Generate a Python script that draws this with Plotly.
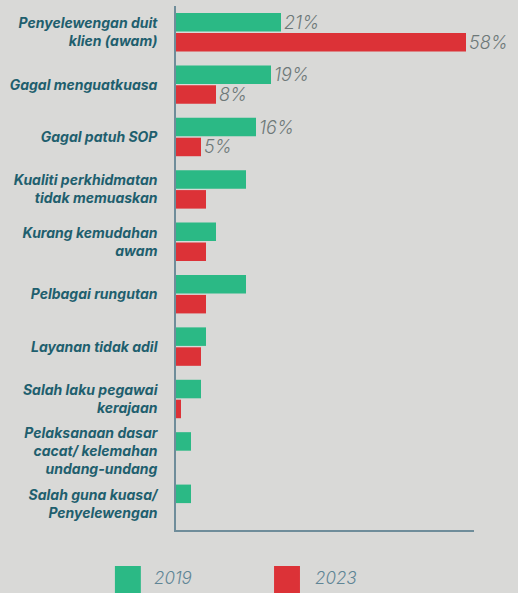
import plotly.graph_objects as go

categories = [
    "Penyelewengan duit<br>klien (awam)",
    "Gagal menguatkuasa",
    "Gagal patuh SOP",
    "Kualiti perkhidmatan<br>tidak memuaskan",
    "Kurang kemudahan<br>awam",
    "Pelbagai rungutan",
    "Layanan tidak adil",
    "Salah laku pegawai<br>kerajaan",
    "Pelaksanaan dasar<br>cacat/ kelemahan<br>undang-undang",
    "Salah guna kuasa/<br>Penyelewengan",
]
values_2019 = [21, 19, 16, 14, 8, 14, 6, 5, 3, 3]
values_2023 = [58, 8, 5, 6, 6, 6, 5, 1, 0, 0]
labels_2019 = ["21%", "19%", "16%", "", "", "", "", "", "", ""]
labels_2023 = ["58%", "8%", "5%", "", "", "", "", "", "", ""]

GREEN = "#2bb985"
RED = "#dc3237"
BG = "#d9d9d7"
LABEL = "#1f5f6e"
VALUE = "#6d7878"
AXIS = "#6f8d9a"

fig = go.Figure()

fig.add_trace(go.Bar(
    y=categories, x=values_2019, orientation='h', name='2019',
    marker=dict(color=GREEN, line=dict(width=0)),
    text=labels_2019, textposition='outside', constraintext='none',
    cliponaxis=False, hoverinfo='skip',
    textfont=dict(family="Inter", size=18, color=VALUE, style='italic', weight=300),
))
fig.add_trace(go.Bar(
    y=categories, x=values_2023, orientation='h', name='2023',
    marker=dict(color=RED, line=dict(width=0)),
    text=labels_2023, textposition='outside', constraintext='none',
    cliponaxis=False, hoverinfo='skip',
    textfont=dict(family="Inter", size=18, color=VALUE, style='italic', weight=300),
))

# legend drawn by hand: big square swatches below the plot
legend_items = [("2019", GREEN, -0.205, -0.0805), ("2023", RED, 0.329, 0.46)]
for name, color, x0, tx in legend_items:
    fig.add_shape(type='rect', xref='paper', yref='paper',
                  x0=x0, x1=x0 + 0.087, y0=-0.125, y1=-0.0687,
                  fillcolor=color, line=dict(width=0))
    fig.add_annotation(xref='paper', yref='paper', x=tx, y=-0.0916,
                       text=name, showarrow=False, xanchor='left', yanchor='middle',
                       font=dict(family="Inter", size=17, color="#5f8595",
                                 style='italic', weight=300))

fig.update_layout(
    width=518, height=593,
    margin=dict(l=176, r=44, t=6, b=63),
    paper_bgcolor=BG, plot_bgcolor=BG,
    barmode='group', bargap=0.24, bargroupgap=0.07,
    showlegend=False,
    xaxis=dict(range=[0, 59.6], showticklabels=False, showgrid=False,
               zeroline=False, showline=True, linecolor=AXIS, linewidth=1.5,
               ticks=''),
    yaxis=dict(categoryorder='array', categoryarray=categories,
               autorange='reversed', showgrid=False, zeroline=False,
               showline=True, linecolor=AXIS, linewidth=1.5, ticks='',
               ticklabelstandoff=14,
               tickfont=dict(family="Inter", size=14, color=LABEL,
                             style='italic', weight=700)),
)

fig.write_html("out.html", config={'displayModeBar': False},
               post_script="document.body.style.margin='0';")
